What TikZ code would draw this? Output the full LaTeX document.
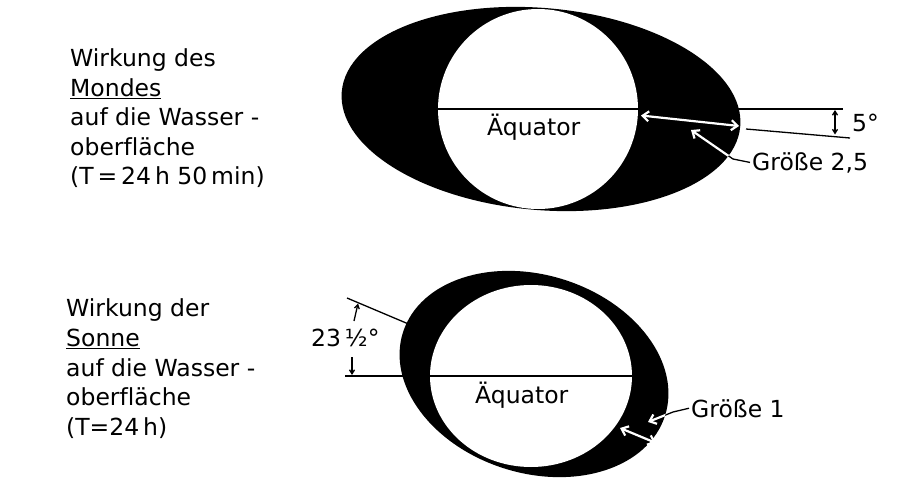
\documentclass[tikz,border=0pt]{standalone}
\usepackage{fontspec}
\setmainfont[Ligatures=NoCommon]{DejaVu Sans}
\usetikzlibrary{arrows.meta,shapes.geometric}
\tikzset{
  wtip/.tip={Straight Barb[length=6pt,width=10pt]},
  btip/.tip={Straight Barb[length=4pt,width=5pt]}
}
\begin{document}
\begin{tikzpicture}[x=1pt,y=-1pt,
  lbl/.style={font=\fontsize{23.5}{29}\selectfont, inner sep=0pt, anchor=base west},
  bline/.style={black, line width=1.3pt},
  wline/.style={white, line width=2.2pt},
  blob/.style={ellipse, fill=black, inner sep=0pt},
  hole/.style={ellipse, fill=white, inner sep=0pt}]
\useasboundingbox (0,0) rectangle (906,482);

% ---------- left texts ----------
\node[lbl] (m1) at (70,66.5) {Wirkung des};
\node[lbl] (m2) at (70,96) {\underline{Mondes}};
\node[lbl] (m3) at (70,125.5) {auf die Wasser -};
\node[lbl] (m4) at (70,155) {oberfläche};
\node[lbl] (m5) at (70,184) {(T\,=\,24\,h 50\,min)};

\node[lbl] (s1) at (66,316.5) {Wirkung der};
\node[lbl] (s2) at (66,346) {\underline{Sonne}};
\node[lbl] (s3) at (66,376) {auf die Wasser -};
\node[lbl] (s4) at (66,405.5) {oberfläche};
\node[lbl] (s5) at (66,435) {(T=24\,h)};

% ---------- Moon ----------
\node[blob, minimum width=400pt, minimum height=202pt, rotate=-5] (moonOuter) at (541,109) {};
\node[hole, minimum width=200pt, minimum height=200pt] (moonInner) at (538,109) {};

\coordinate (eqTopR) at (843,109);
\draw[bline] (moonInner.west) -- (eqTopR);

\coordinate (axA) at (746,129);
\coordinate (axB) at (850,138);
\draw[bline] (axA) -- (axB);

\coordinate (fiveA) at (835,110);
\coordinate (fiveB) at (835,134.5);
\draw[bline, {btip}-{btip}] (fiveA) -- (fiveB);
\node[lbl] (five) at (852,131) {5°};

\coordinate (mArrA) at (641,115.5);
\coordinate (mArrB) at (739,126);
\draw[wline, {wtip}-{wtip}] (mArrA) -- (mArrB);

\node[lbl] (aeqTop) at (487,135) {Äquator};
\node[lbl] (g25) at (752,170) {Größe 2,5};

\coordinate (g25bend) at (733,159);
\coordinate (g25tip) at (691,130);
\draw[bline] ([xshift=-2pt]g25.west) -- (g25bend) -- (g25tip);
\begin{scope}
  \clip[shift={(541,109)}, rotate=-5] (0,0) ellipse [x radius=200, y radius=101];
  \draw[wline, -{wtip}] (g25bend) -- (g25tip);
\end{scope}

% ---------- Sun ----------
\coordinate (tiltA) at (347,298);
\coordinate (tiltB) at (418,328);
\draw[bline] (tiltA) -- (tiltB);

\node[blob, minimum width=275pt, minimum height=198pt, rotate=-17.6] (sunOuter) at (534,374) {};
\node[hole, minimum width=202pt, minimum height=182pt] (sunInner) at (531,376) {};

\coordinate (eqSunL) at (345,376);
\coordinate (eqSunR) at (632,376);
\draw[bline] (eqSunL) -- (eqSunR);

\coordinate (angUa) at (354,321);
\coordinate (angUb) at (358,303.5);
\coordinate (angLa) at (352,357);
\coordinate (angLb) at (352,375);
\draw[bline, -{btip}] (angUa) -- (angUb);
\draw[bline, -{btip}] (angLa) -- (angLb);
\node[lbl] (ang) at (311,346) {23\,½°};

\node[lbl] (aeqBot) at (475,403) {Äquator};
\node[lbl] (g1) at (691,417) {Größe 1};

\coordinate (sArrA) at (620,428);
\coordinate (sArrB) at (656,443);
\draw[wline, {wtip}-{wtip}] (sArrA) -- (sArrB);

\coordinate (g1bend) at (673,412);
\coordinate (g1tip) at (648,422);
\draw[bline] ([xshift=-2pt]g1.west) -- (g1bend) -- (g1tip);
\begin{scope}
  \clip[shift={(534,374)}, rotate=-17.6] (0,0) ellipse [x radius=137.5, y radius=99];
  \draw[wline, -{wtip}] (g1bend) -- (g1tip);
\end{scope}
\end{tikzpicture}
\end{document}
